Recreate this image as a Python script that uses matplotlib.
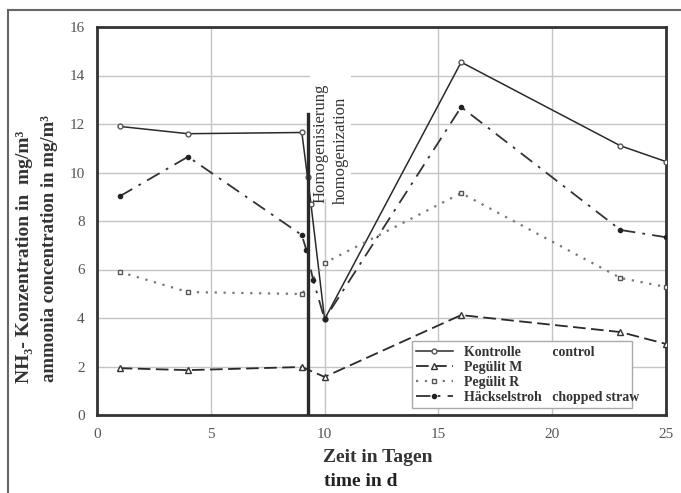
import matplotlib
matplotlib.use('Agg')
import matplotlib.pyplot as plt
from matplotlib.lines import Line2D
from matplotlib.patches import Rectangle

plt.rcParams['font.family'] = ['Liberation Serif', 'DejaVu Serif']

# days and NH3 concentrations (mg/m3)
kontrolle_days = [1, 4, 9, 9.25, 9.4, 10, 16, 23, 25]
kontrolle_vals = [11.9, 11.6, 11.65, 9.8, 8.7, 3.95, 14.55, 11.1, 10.45]

pegulit_m_days = [1, 4, 9, 10, 16, 23, 25]
pegulit_m_vals = [1.93, 1.85, 1.98, 1.57, 4.12, 3.42, 2.93]

pegulit_r_days = [1, 4, 9, 10, 16, 23, 25]
pegulit_r_vals = [5.9, 5.07, 4.99, 6.27, 9.15, 5.65, 5.28]

haecksel_days = [1, 4, 9, 9.2, 9.5, 10, 16, 23, 25]
haecksel_vals = [9.02, 10.65, 7.42, 6.8, 5.56, 3.95, 12.7, 7.63, 7.33]

homog_day = 9.25
homog_top = 12.4

fig = plt.figure(figsize=(6.81, 4.93), dpi=100)
ax = fig.add_axes([97 / 681, 1 - 415 / 493, 569 / 681, 388 / 493])
ax.set_axisbelow(True)

ax.plot(kontrolle_days, kontrolle_vals, color='#2a2a2a', lw=1.1, ls='-',
        marker='o', ms=3.5, mfc='white', mec='#555', zorder=3,
        label='Kontrolle         control')
ax.plot(pegulit_m_days, pegulit_m_vals, color='#2a2a2a', lw=1.3, ls=(0, (7, 3)),
        marker='^', ms=4, mfc='white', mec='#333', zorder=3,
        label='Pegülit M')
ax.plot(pegulit_r_days, pegulit_r_vals, color='#777', lw=1.6, ls=(0, (1, 3)),
        marker='s', ms=3.5, mfc='white', mec='#555', zorder=3,
        label='Pegülit R')
ax.plot(haecksel_days, haecksel_vals, color='#333', lw=1.3,
        ls=(0, (8, 4, 1.5, 4)), marker='o', ms=3, mfc='#222', mec='#222', zorder=3,
        label='Häckselstroh   chopped straw')

# homogenization marker line
ax.plot([homog_day, homog_day], [0, homog_top], color='#2a2a2a', lw=2.4, zorder=4)
ax.add_patch(Rectangle((9.35, 8.9), 1.8, 7.1, facecolor='white', edgecolor='none', zorder=1))
ax.text(9.82, 8.75, 'Homogenisierung', rotation=90, ha='center', va='bottom',
        fontsize=12, color='#333', zorder=5)
ax.text(10.7, 8.7, 'homogenization', rotation=90, ha='center', va='bottom',
        fontsize=12, color='#333', zorder=5)

ax.set_xlim(0, 25)
ax.set_ylim(0, 16)
ax.set_xticks([0, 5, 10, 15, 20, 25])
ax.set_yticks([0, 2, 4, 6, 8, 10, 12, 14, 16])
ax.grid(True, color='#c4c4c4', lw=1.0)
ax.tick_params(labelsize=11, colors='#555', length=0, pad=9)
for s in ax.spines.values():
    s.set_linewidth(2)
    s.set_color('#333')

leg = ax.legend(loc='lower left', bbox_to_anchor=(0.554, 0.018, 0.387, 0.167),
                mode='expand', frameon=True, fancybox=False, framealpha=1,
                edgecolor='#aaa', handlelength=2.6, borderaxespad=0,
                labelspacing=0.15, borderpad=0.3, handletextpad=0.8,
                prop={'weight': 'bold', 'size': 10})
for t in leg.get_texts():
    t.set_color('#333')

# axis titles
fig.text(25 / 681, 1 - 383 / 493, 'NH₃- Konzentration in  mg/m³', rotation=90,
         ha='center', va='bottom', fontsize=14, fontweight='bold', color='#333')
fig.text(50 / 681, 1 - 382 / 493, 'ammonia concentration in mg/m³', rotation=90,
         ha='center', va='bottom', fontsize=13.5, fontweight='bold', color='#333')
fig.text(323 / 681, 1 - 458 / 493, 'Zeit in Tagen', ha='left', va='center',
         fontsize=14, fontweight='bold', color='#333')
fig.text(324 / 681, 1 - 481 / 493, 'time in d', ha='left', va='center',
         fontsize=14, fontweight='bold', color='#222')

# outer scan frame
fig.add_artist(Line2D([8 / 681, 1.0], [1 - 10 / 493, 1 - 10 / 493], color='#666', lw=1.5))
fig.add_artist(Line2D([8 / 681, 8 / 681], [0.0, 1 - 10 / 493], color='#666', lw=1.5))

fig.savefig('out.png', dpi=100)
